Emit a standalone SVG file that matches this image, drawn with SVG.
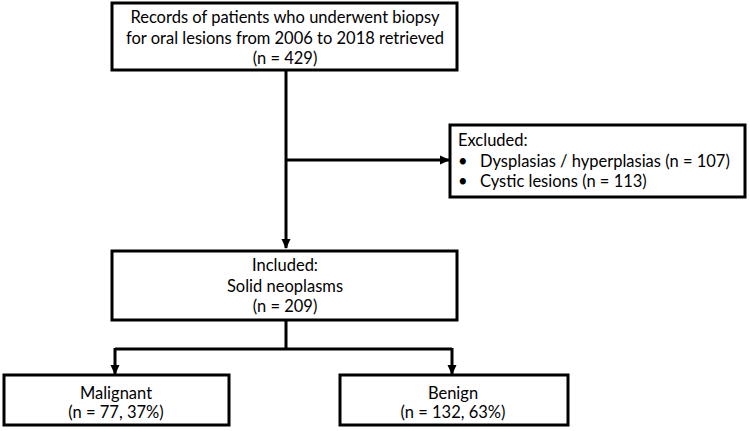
<svg xmlns="http://www.w3.org/2000/svg" width="750" height="431" viewBox="0 0 750 431">
<defs>
<marker id="ah" markerWidth="10" markerHeight="10" refX="9" refY="5" orient="auto" markerUnits="userSpaceOnUse">
<path d="M0,0.5 L10,5 L0,9.5 Z" fill="#000"/>
</marker>
<style>
.box{fill:#fff;stroke:#000;stroke-width:3}
.ln{fill:none;stroke:#000;stroke-width:3}
text{font-family:Lato,"Open Sans","Liberation Sans",sans-serif;font-size:16.5px;fill:#000}
.c{text-anchor:middle}
</style>
</defs>
<rect width="750" height="431" fill="#fff"/>
<g id="connectors">
<path class="ln" d="M286,71 V248" marker-end="url(#ah)"/>
<path class="ln" d="M286,160 H449" marker-end="url(#ah)"/>
<path class="ln" d="M286,320 V349 M115,349 H452"/>
<path class="ln" d="M115,348 V374" marker-end="url(#ah)"/>
<path class="ln" d="M452,348 V374" marker-end="url(#ah)"/>
</g>
<g id="records">
<rect class="box" x="112" y="3" width="345" height="67"/>
<text class="c" x="285" y="23">Records of patients who underwent biopsy</text>
<text class="c" x="285" y="44">for oral lesions from 2006 to 2018 retrieved</text>
<text class="c" x="285" y="64">(n = 429)</text>
</g>
<g id="excluded">
<rect class="box" x="450" y="125" width="295" height="72"/>
<text x="458" y="146">Excluded:</text>
<text x="458" y="167">•</text>
<text x="480" y="167">Dysplasias / hyperplasias (n = 107)</text>
<text x="458" y="187">•</text>
<text x="480" y="187">Cystic lesions (n = 113)</text>
</g>
<g id="included">
<rect class="box" x="112" y="251" width="345" height="69"/>
<text class="c" x="285" y="271">Included:</text>
<text class="c" x="285" y="292">Solid neoplasms</text>
<text class="c" x="285" y="312">(n = 209)</text>
</g>
<g id="malignant">
<rect class="box" x="4" y="375" width="225" height="50"/>
<text class="c" x="116" y="399">Malignant</text>
<text class="c" x="116" y="418">(n = 77, 37%)</text>
</g>
<g id="benign">
<rect class="box" x="340" y="375" width="228" height="50"/>
<text class="c" x="453" y="399">Benign</text>
<text class="c" x="453" y="418">(n = 132, 63%)</text>
</g>
</svg>
